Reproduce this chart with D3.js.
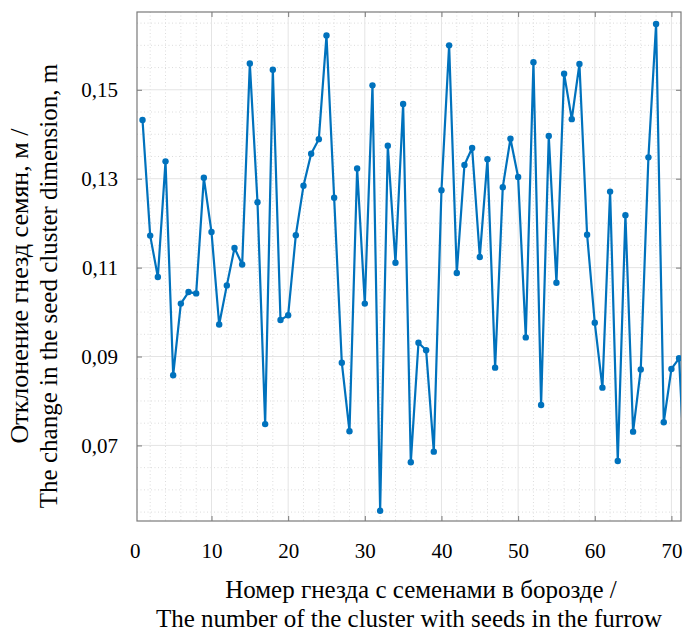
<!DOCTYPE html>
<html>
<head>
<meta charset="utf-8">
<script src="https://cdn.jsdelivr.net/npm/d3@7"></script>
<style>
  body { margin: 0; background: #fff; }
</style>
</head>
<body>
<div id="graph"></div>
<script>
// cluster number (x) and deviation value (y)
let clusterNo = [1, 2, 3, 4, 5, 6, 7, 8, 9, 10, 11, 12, 13, 14, 15, 16, 17, 18, 19, 20,
    21, 22, 23, 24, 25, 26, 27, 28, 29, 30, 31, 32, 33, 34, 35, 36, 37, 38, 39, 40,
    41, 42, 43, 44, 45, 46, 47, 48, 49, 50, 51, 52, 53, 54, 55, 56, 57, 58, 59, 60,
    61, 62, 63, 64, 65, 66, 67, 68, 69, 70, 71, 72];
let deviation = [0.1432, 0.1172, 0.1079, 0.1339, 0.0858, 0.1019, 0.1045, 0.1042, 0.1302, 0.1180,
    0.0972, 0.1060, 0.1144, 0.1107, 0.1559, 0.1247, 0.0748, 0.1545, 0.0982, 0.0993,
    0.1173, 0.1284, 0.1356, 0.1389, 0.1622, 0.1257, 0.0886, 0.0732, 0.1323, 0.1019,
    0.1510, 0.0553, 0.1374, 0.1111, 0.1468, 0.0662, 0.0931, 0.0914, 0.0686, 0.1274,
    0.1600, 0.1088, 0.1331, 0.1369, 0.1124, 0.1344, 0.0875, 0.1281, 0.1390, 0.1304,
    0.0943, 0.1562, 0.0791, 0.1396, 0.1066, 0.1536, 0.1434, 0.1558, 0.1174, 0.0976,
    0.0830, 0.1271, 0.0665, 0.1218, 0.0731, 0.0871, 0.1348, 0.1648, 0.0752, 0.0872,
    0.0896, 0.0550];
let xTicks = [0, 10, 20, 30, 40, 50, 60, 70];
let yTicks = [0.07, 0.09, 0.11, 0.13, 0.15];
let xMinor = d3.range(0, 72, 2);
let yMinor = d3.range(0.055, 0.1675, 0.005);
let yTitle = ["Отклонение гнезд семян, м /", "The change in the seed cluster dimension, m"];
let xTitle = ["Номер гнезда с семенами в борозде /", "The number of the cluster with seeds in the furrow"];

let data = clusterNo.map((n, i) => ({ x: n, y: deviation[i] }));

var serif = "Liberation Serif";
var width = 691, height = 635;
var margin = { top: 12, right: 10, bottom: 114, left: 137 };
var plotW = width - margin.left - margin.right,
    plotH = height - margin.top - margin.bottom;

var svg = d3.select("#graph")
    .append("svg")
    .attr("width", width)
    .attr("height", height)
    .attr("font-family", serif);

var g = svg.append("g")
    .attr("transform", "translate(" + margin.left + "," + margin.top + ")");

var x = d3.scaleLinear().domain([0.28, 71.25]).range([0, plotW]);
var y = d3.scaleLinear().domain([0.053, 0.1675]).range([plotH, 0]);

var fmt = d => d3.format(".2f")(d).replace(".", ",");

// minor dotted grid
g.selectAll(".vminor")
    .data(xMinor.filter(d => d % 10 != 0 && x(d) > 0))
    .enter().append("line")
    .attr("x1", d => x(d)).attr("x2", d => x(d))
    .attr("y1", 0).attr("y2", plotH)
    .style("stroke", "#dcdcdc")
    .style("stroke-dasharray", "1,2.5");

g.selectAll(".hminor")
    .data(yMinor.filter(d => !yTicks.some(t => Math.abs(t - d) < 1e-6)))
    .enter().append("line")
    .attr("x1", 0).attr("x2", plotW)
    .attr("y1", d => y(d)).attr("y2", d => y(d))
    .style("stroke", "#dcdcdc")
    .style("stroke-dasharray", "1,2.5");

// major grid
g.selectAll(".vmajor")
    .data(xTicks.filter(d => x(d) > 0))
    .enter().append("line")
    .attr("x1", d => x(d)).attr("x2", d => x(d))
    .attr("y1", 0).attr("y2", plotH)
    .style("stroke", "#e4e4e4");

g.selectAll(".hmajor")
    .data(yTicks)
    .enter().append("line")
    .attr("x1", 0).attr("x2", plotW)
    .attr("y1", d => y(d)).attr("y2", d => y(d))
    .style("stroke", "#e4e4e4");

// axes, MATLAB style: ticks inward on all four sides
function styleAxis(sel) {
    sel.attr("font-family", serif).attr("font-size", 21);
    sel.select(".domain").remove();
    sel.selectAll(".tick line").style("stroke", "#7a7a7a");
    sel.selectAll("text")
        .attr("font-family", serif)
        .attr("font-size", 21)
        .style("font-family", serif)
        .style("fill", "#000");
}

g.append("g")
    .attr("transform", "translate(0," + plotH + ")")
    .call(d3.axisBottom(x).tickValues(xTicks).tickSizeInner(-5).tickSizeOuter(0).tickPadding(22).tickFormat(d3.format("d")))
    .call(styleAxis)
    .call(a => a.selectAll(".tick").filter(d => d == 0).select("line").remove());

g.append("g")
    .call(d3.axisTop(x).tickValues(xTicks.filter(d => d > 0)).tickSizeInner(-5).tickSizeOuter(0).tickFormat(""))
    .call(styleAxis);

g.append("g")
    .call(d3.axisLeft(y).tickValues(yTicks).tickSizeInner(-5).tickSizeOuter(0).tickPadding(19).tickFormat(fmt))
    .call(styleAxis);

g.append("g")
    .attr("transform", "translate(" + plotW + ",0)")
    .call(d3.axisRight(y).tickValues(yTicks).tickSizeInner(-5).tickSizeOuter(0).tickFormat(""))
    .call(styleAxis);

// box
g.append("rect")
    .attr("width", plotW)
    .attr("height", plotH)
    .style("fill", "none")
    .style("stroke", "#7a7a7a")
    .style("stroke-width", 1.2);

svg.append("clipPath")
    .attr("id", "clip")
    .append("rect")
    .attr("width", plotW)
    .attr("height", plotH);

var plot = g.append("g").attr("clip-path", "url(#clip)");

var line = d3.line().x(d => x(d.x)).y(d => y(d.y));

plot.append("path")
    .datum(data)
    .attr("d", line)
    .style("fill", "none")
    .style("stroke", "#0072bd")
    .style("stroke-width", 2.2)
    .style("stroke-linejoin", "round");

plot.selectAll("circle")
    .data(data)
    .enter()
    .append("circle")
    .attr("cx", d => x(d.x))
    .attr("cy", d => y(d.y))
    .attr("r", 3.2)
    .style("fill", "#0072bd");

// axis titles
var yt = svg.append("text")
    .attr("transform", "translate(0,286) rotate(-90)")
    .attr("text-anchor", "middle")
    .attr("font-family", serif)
    .attr("font-size", 25);
yt.append("tspan").attr("x", 0).attr("y", 28).attr("font-size", 26).text(yTitle[0]);
yt.append("tspan").attr("x", 0).attr("y", 57).text(yTitle[1]);

svg.append("text")
    .attr("x", 421).attr("y", 598)
    .attr("text-anchor", "middle")
    .attr("font-family", serif)
    .attr("font-size", 25)
    .text(xTitle[0]);
svg.append("text")
    .attr("x", 409).attr("y", 627)
    .attr("text-anchor", "middle")
    .attr("font-family", serif)
    .attr("font-size", 25)
    .text(xTitle[1]);
</script>
</body>
</html>
